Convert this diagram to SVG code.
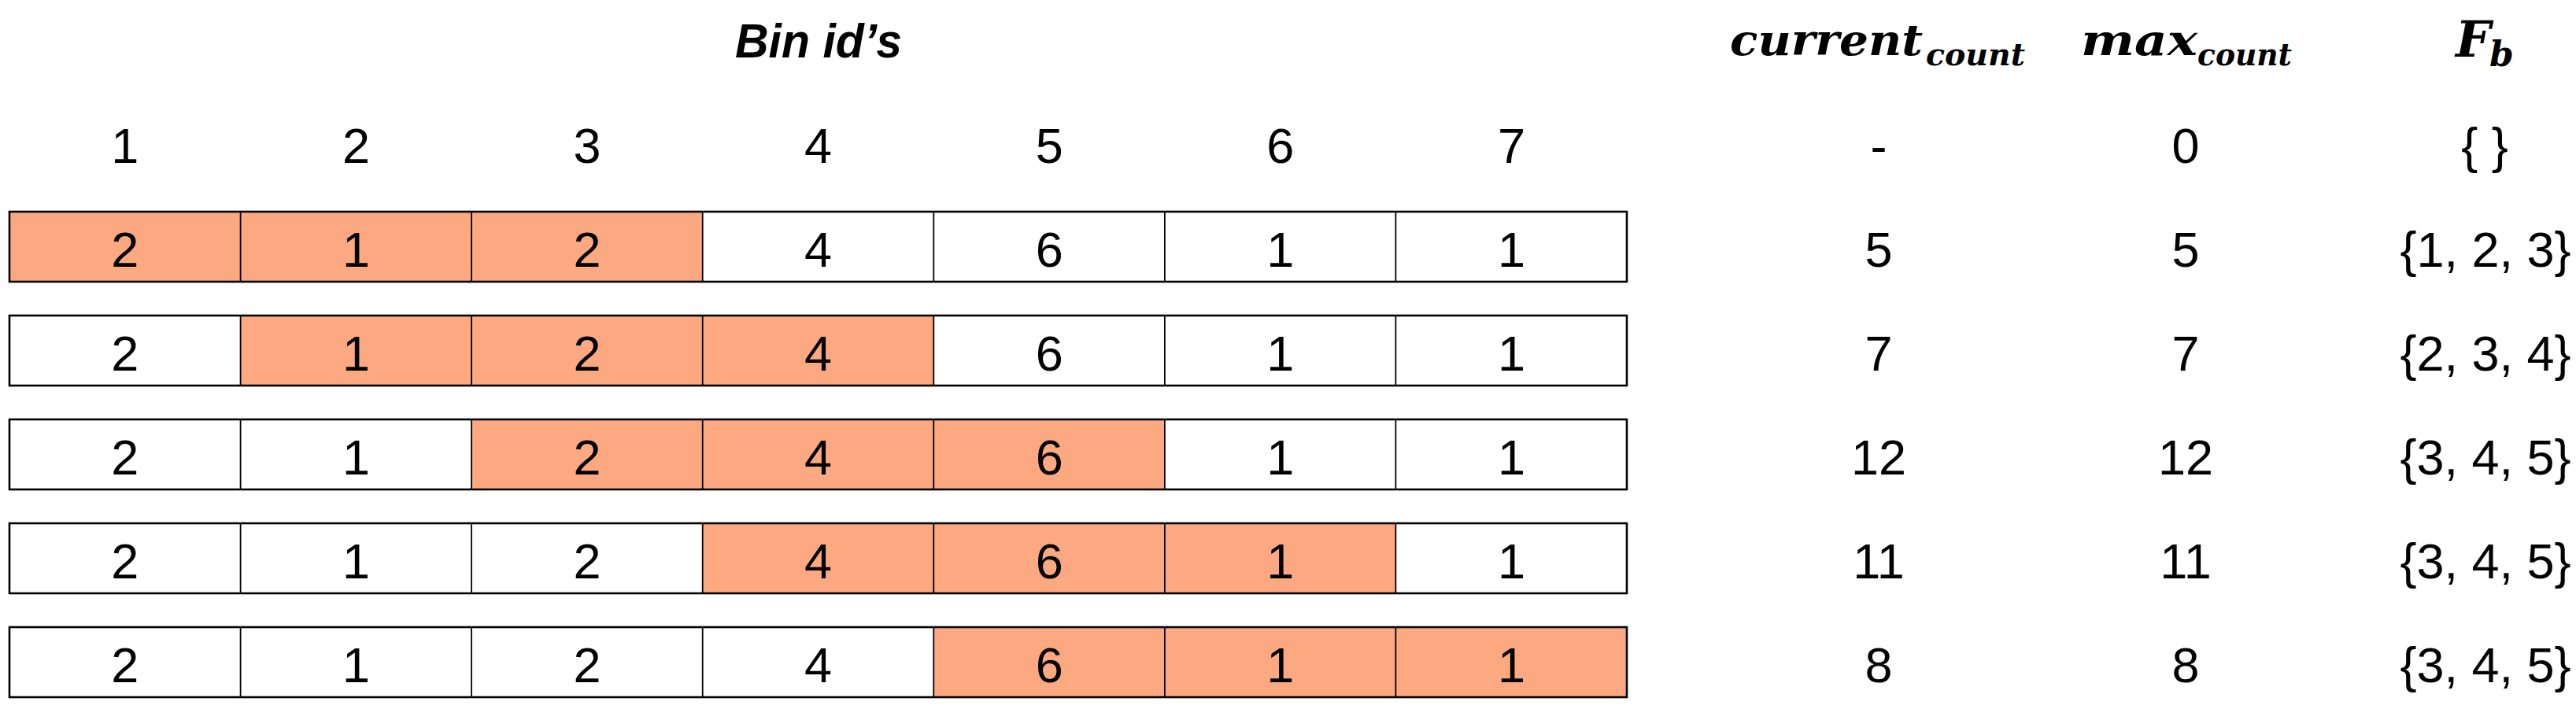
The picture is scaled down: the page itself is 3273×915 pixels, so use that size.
<svg xmlns="http://www.w3.org/2000/svg" width="3273" height="915" viewBox="0 0 3273 915">
<style>
.num{font-family:"Liberation Sans",Arial,sans-serif;font-size:63px;fill:#000;text-anchor:middle}
.hdr{font-family:"Liberation Sans",Arial,sans-serif;font-size:62px;font-weight:bold;font-style:italic;fill:#000;text-anchor:middle}
.math{font-family:"DejaVu Serif",serif;font-weight:bold;font-style:italic;fill:#000}
.m{font-size:55px}
.s{font-size:40px}
.hi{fill:#FCA982}
.lo{fill:#FFFFFF}
.div{stroke:#000;stroke-width:1.8}
.out{fill:none;stroke:#000;stroke-width:2.6}
</style>
<rect width="3273" height="915" fill="#fff"/>
<defs>
<g id="dividers">
<line class="div" x1="305.6" y1="0" x2="305.6" y2="89"/>
<line class="div" x1="599.1" y1="0" x2="599.1" y2="89"/>
<line class="div" x1="892.7" y1="0" x2="892.7" y2="89"/>
<line class="div" x1="1186.3" y1="0" x2="1186.3" y2="89"/>
<line class="div" x1="1479.9" y1="0" x2="1479.9" y2="89"/>
<line class="div" x1="1773.4" y1="0" x2="1773.4" y2="89"/>
</g>
<g id="vals">
<text class="num" x="158.8" y="70">2</text>
<text class="num" x="452.4" y="70">1</text>
<text class="num" x="746" y="70">2</text>
<text class="num" x="1039.6" y="70">4</text>
<text class="num" x="1333.2" y="70">6</text>
<text class="num" x="1626.8" y="70">1</text>
<text class="num" x="1920.4" y="70">1</text>
</g>
</defs>

<g id="header">
<text class="hdr" x="1040" y="73" textLength="212" lengthAdjust="spacingAndGlyphs">Bin id’s</text>
<text class="math m" x="2198" y="70" textLength="245" lengthAdjust="spacingAndGlyphs">current</text>
<text class="math s" x="2447" y="83" textLength="126" lengthAdjust="spacingAndGlyphs">count</text>
<text class="math m" x="2644" y="70" textLength="148" lengthAdjust="spacingAndGlyphs">max</text>
<text class="math s" x="2792" y="83" textLength="120" lengthAdjust="spacingAndGlyphs">count</text>
<text class="math" x="3120" y="72" font-size="63">F</text>
<text class="math" x="3163" y="84" font-size="44">b</text>
</g>

<g id="bin-ids">
<text class="num" x="158.8" y="207">1</text>
<text class="num" x="452.4" y="207">2</text>
<text class="num" x="746" y="207">3</text>
<text class="num" x="1039.6" y="207">4</text>
<text class="num" x="1333.2" y="207">5</text>
<text class="num" x="1626.8" y="207">6</text>
<text class="num" x="1920.4" y="207">7</text>
<text class="num" x="2387" y="207">-</text>
<text class="num" x="2777" y="207">0</text>
<text class="num" x="3157" y="207">{ }</text>
</g>

<g id="row1" transform="translate(12,269)">
<rect class="lo" x="0" y="0" width="2055" height="89"/>
<rect class="hi" x="0" y="0" width="880.7" height="89"/>
<use href="#dividers" transform="translate(-12,0)"/>
<rect class="out" x="0" y="0" width="2055" height="89"/>
<use href="#vals" transform="translate(-12,0)"/>
</g>
<g id="row2" transform="translate(12,401)">
<rect class="lo" x="0" y="0" width="2055" height="89"/>
<rect class="hi" x="293.6" y="0" width="880.7" height="89"/>
<use href="#dividers" transform="translate(-12,0)"/>
<rect class="out" x="0" y="0" width="2055" height="89"/>
<use href="#vals" transform="translate(-12,0)"/>
</g>
<g id="row3" transform="translate(12,533)">
<rect class="lo" x="0" y="0" width="2055" height="89"/>
<rect class="hi" x="587.1" y="0" width="880.7" height="89"/>
<use href="#dividers" transform="translate(-12,0)"/>
<rect class="out" x="0" y="0" width="2055" height="89"/>
<use href="#vals" transform="translate(-12,0)"/>
</g>
<g id="row4" transform="translate(12,665)">
<rect class="lo" x="0" y="0" width="2055" height="89"/>
<rect class="hi" x="880.7" y="0" width="880.7" height="89"/>
<use href="#dividers" transform="translate(-12,0)"/>
<rect class="out" x="0" y="0" width="2055" height="89"/>
<use href="#vals" transform="translate(-12,0)"/>
</g>
<g id="row5" transform="translate(12,797)">
<rect class="lo" x="0" y="0" width="2055" height="89"/>
<rect class="hi" x="1174.3" y="0" width="880.7" height="89"/>
<use href="#dividers" transform="translate(-12,0)"/>
<rect class="out" x="0" y="0" width="2055" height="89"/>
<use href="#vals" transform="translate(-12,0)"/>
</g>

<g id="stats">
<text class="num" x="2387" y="339">5</text>
<text class="num" x="2777" y="339">5</text>
<text class="num" x="3158" y="339">{1, 2, 3}</text>
<text class="num" x="2387" y="471">7</text>
<text class="num" x="2777" y="471">7</text>
<text class="num" x="3158" y="471">{2, 3, 4}</text>
<text class="num" x="2387" y="603">12</text>
<text class="num" x="2777" y="603">12</text>
<text class="num" x="3158" y="603">{3, 4, 5}</text>
<text class="num" x="2387" y="735">11</text>
<text class="num" x="2777" y="735">11</text>
<text class="num" x="3158" y="735">{3, 4, 5}</text>
<text class="num" x="2387" y="867">8</text>
<text class="num" x="2777" y="867">8</text>
<text class="num" x="3158" y="867">{3, 4, 5}</text>
</g>

<g id="connectors"></g>
</svg>
